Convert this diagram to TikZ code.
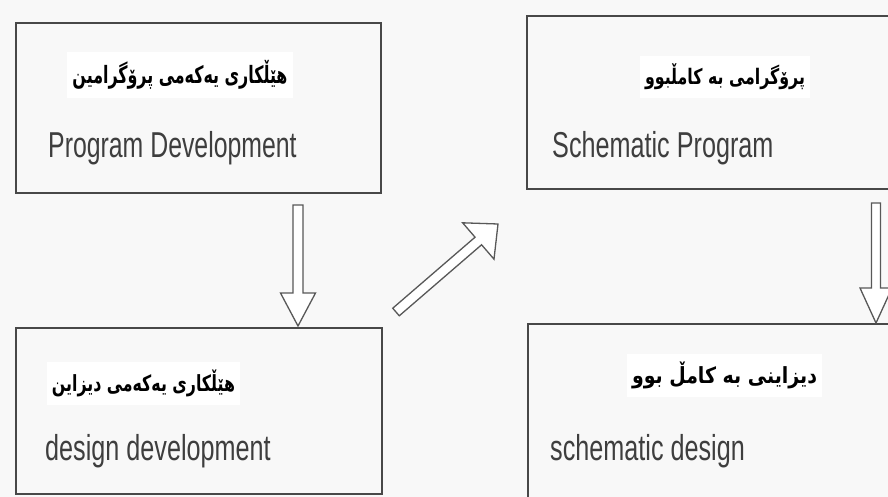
\documentclass[tikz,border=0pt]{standalone}
\usepackage{fontspec}
\setmainfont{Liberation Sans}
\newfontfamily\kurd[Script=Arabic]{DejaVu Sans}
\TeXXeTstate=1
\usetikzlibrary{calc}
\definecolor{bg}{RGB}{248,248,248}
\definecolor{boxline}{RGB}{72,72,72}
\definecolor{entext}{RGB}{62,62,62}
\definecolor{arrline}{RGB}{88,88,88}
\tikzset{
  stage/.style={draw=boxline, line width=1.6pt, rectangle, anchor=north west, inner sep=0pt},
  entxt/.style={anchor=base west, inner sep=0pt, text=entext, font=\fontsize{36}{40}\selectfont},
  kutxt/.style={anchor=center, fill=white, inner xsep=5pt, inner ysep=8pt, text=black},
  blockarr/.style={draw=arrline, line width=1.3pt, fill=white, line join=miter},
}
% #1 start, #2 end, #3 shaft half width, #4 head half width, #5 head length
\newcommand\blockarrow[5]{%
  \coordinate (hb) at ($(#2)!#5!(#1)$);
  \draw[blockarr] ($(#1)!#3!90:(#2)$) -- ($(hb)!#3!90:(#2)$) -- ($(hb)!#4!90:(#2)$)
    -- (#2) -- ($(hb)!#4!-90:(#2)$) -- ($(hb)!#3!-90:(#2)$) -- ($(#1)!#3!-90:(#2)$) -- cycle;
}
\begin{document}
\begin{tikzpicture}[x=1pt,y=-1pt]
  \fill[bg] (0,0) rectangle (888,497);
  \useasboundingbox (0,0) rectangle (888,497);
  \clip (0,0) rectangle (888,497);

  % boxes
  \node[stage, minimum width=365pt, minimum height=170pt] (b1) at (15,22) {};
  \node[stage, minimum width=400pt, minimum height=173pt] (b2) at (526,15) {};
  \node[stage, minimum width=366pt, minimum height=166pt] (b3) at (15,327) {};
  \node[stage, minimum width=400pt, minimum height=200pt] (b4) at (527,323) {};

  % texts
  \node[kutxt] (k1) at (180,75) {\resizebox*{215pt}{29pt}{\kurd\bfseries\beginR هێڵکاری یەکەمی پرۆگرامین\endR}};
  \node[entxt] (e1) at (48,158) {\scalebox{0.69}[1]{Program Development}};

  \node[kutxt] (k2) at (725,77) {\resizebox*{160pt}{26pt}{\kurd\bfseries\beginR پرۆگرامی بە کامڵبوو\endR}};
  \node[entxt] (e2) at (552,158) {\scalebox{0.70}[1]{Schematic Program}};

  \node[kutxt] (k3) at (143.5,383) {\resizebox*{183pt}{27pt}{\kurd\bfseries\beginR هێڵکاری یەکەمی دیزاین\endR}};
  \node[entxt] (e3) at (45,460) {\scalebox{0.70}[1]{design development}};

  \node[kutxt] (k4) at (724.5,375) {\resizebox*{185pt}{27pt}{\kurd\bfseries\beginR دیزاینی بە کامڵ بوو\endR}};
  \node[entxt] (e4) at (550,460) {\scalebox{0.70}[1]{schematic design}};

  % arrows
  \coordinate (a1s) at (298,205);
  \coordinate (a1e) at (298,326);
  \coordinate (a2s) at (396,312);
  \coordinate (a2e) at (498,224);
  \coordinate (a3s) at (876,203);
  \coordinate (a3e) at (876,323);
  \blockarrow{a1s}{a1e}{5pt}{17.5pt}{33pt}
  \blockarrow{a2s}{a2e}{5pt}{24pt}{26pt}
  \blockarrow{a3s}{a3e}{4.5pt}{16pt}{35pt}
\end{tikzpicture}
\end{document}
